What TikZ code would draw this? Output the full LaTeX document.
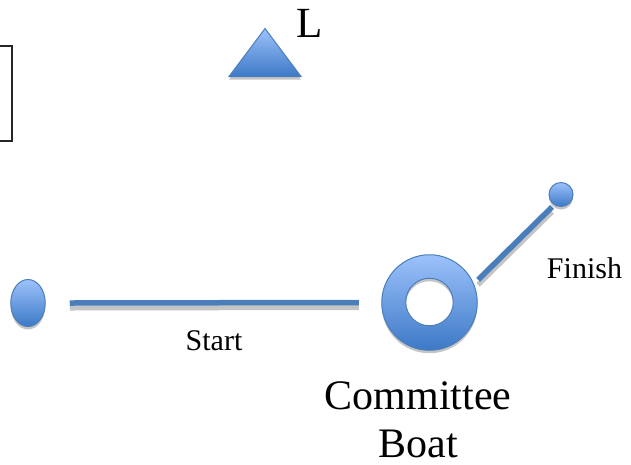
\documentclass[tikz,border=0pt]{standalone}
\usepackage{fontspec}
\setmainfont{Liberation Serif}
\usetikzlibrary{positioning, shapes.geometric, shadows}

\definecolor{marktop}{HTML}{9CC2FB}
\definecolor{markbottom}{HTML}{3D79C6}
\definecolor{markedge}{HTML}{4A7EBB}
\definecolor{markshadow}{HTML}{C4C4C4}

\begin{document}
\begin{tikzpicture}
    [x = 1pt, y = -1pt, outer sep = 0pt,
    mark shape/.style={draw=markedge, line width=1pt, top color=marktop,
      bottom color=markbottom, inner sep=0pt,
      drop shadow={shadow xshift=0pt, shadow yshift=-3pt, fill=markshadow, opacity=1}},
    course line/.style={draw=markedge, line width=5.5pt,
      preaction={draw=markshadow, line width=5pt, transform canvas={yshift=-5pt}}},
    label/.style={inner sep=0pt, font=\fontsize{30}{34}\selectfont}]
    \useasboundingbox (0,0) rectangle (631,464);

    % marks of the course
    \node (notice) [rectangle, draw=black!85, line width=1.5pt, minimum width=64pt,
    minimum height=95pt] at (-20,93.5) {};
    \node (leeward) [mark shape, isosceles triangle, shape border rotate=90,
    isosceles triangle stretches, minimum width=72pt, minimum height=48pt] at (265,58.5) {};
    \node (pin) [mark shape, ellipse, minimum width=34.5pt, minimum height=47pt] at (28,303) {};
    \node (boat) [mark shape, circle, minimum size=95.5pt] at (429.5,302.5) {};
    \node (hole) [circle, draw=markedge, line width=1pt, fill=markshadow, inner sep=0pt,
    minimum size=47.5pt, path picture={\fill[white] ([yshift=-3pt]path picture bounding box.center)
      circle (23.7pt);}] at (429.5,302) {};
    \node (finish) [mark shape, circle, minimum size=24pt] at (561,194.5) {};

    % the two lines
    \draw [course line] ([xshift=-23pt]boat.west) -- ([xshift=24.5pt]pin.east);
    \draw [course line] ([xshift=12pt,yshift=-8pt]boat.40) -- ([xshift=-0.5pt,yshift=-4pt]finish.225);

    % texts
    \node (leeward_label) [label, font=\fontsize{43}{48}\selectfont, anchor=base] at (310,37) {L};
    \node (start_label) [label, anchor=base] at (214,350.5) {Start};
    \node (finish_label) [label, anchor=base] at (584.5,278.5) {Finish};
    \node (boat_label) [label, font=\fontsize{42}{48}\selectfont, align=center, anchor=base] at (418,457.5)
    {Committee\\Boat};
\end{tikzpicture}
\end{document}
